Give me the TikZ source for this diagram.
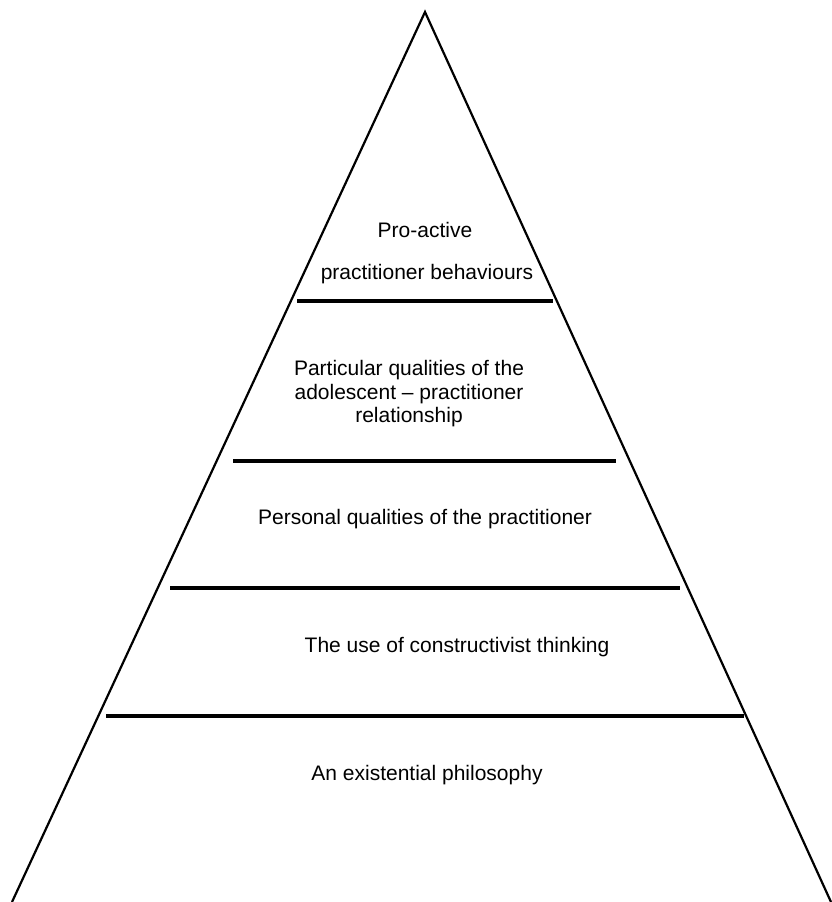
\documentclass[tikz,border=0pt]{standalone}
\usepackage{fontspec}
\setmainfont{Liberation Sans}
\begin{document}
\begin{tikzpicture}[x=1pt,y=-1pt,
  side/.style={line width=2.2pt, line join=miter},
  divider/.style={line width=3.4pt},
  label/.style={inner sep=0pt, font=\fontsize{21}{23.5}\selectfont, align=center}]
\useasboundingbox (0,0) rectangle (832,902);
\coordinate (apex) at (425,12);
\coordinate (bl) at (12,902);
\coordinate (br) at (831,902);
\draw[side] (bl) -- (apex) -- (br);
% dividers
\coordinate (d1l) at (297,301); \coordinate (d1r) at (553,301);
\coordinate (d2l) at (233,461); \coordinate (d2r) at (616,461);
\coordinate (d3l) at (170,588); \coordinate (d3r) at (680,588);
\coordinate (d4l) at (106,716); \coordinate (d4r) at (744,716);
\draw[divider] (d1l) -- (d1r);
\draw[divider] (d2l) -- (d2r);
\draw[divider] (d3l) -- (d3r);
\draw[divider] (d4l) -- (d4r);
% labels
\node[label, anchor=base] (pro) at (425,237) {Pro-active};
\node[label, anchor=base] (beh) at (427,279) {practitioner behaviours};
\node[label] (rel) at (409,394) {Particular qualities of the\\adolescent -- practitioner\\relationship};
\node[label, anchor=base] (pers) at (425,524) {Personal qualities of the practitioner};
\node[label, anchor=base] (cons) at (457,652) {The use of constructivist thinking};
\node[label, anchor=base] (exist) at (427,780) {An existential philosophy};
\end{tikzpicture}
\end{document}
